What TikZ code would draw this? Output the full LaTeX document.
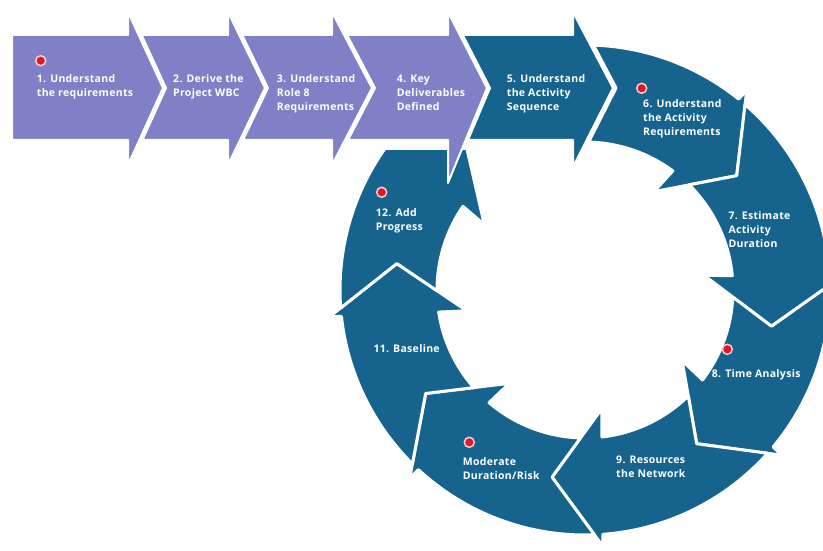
\documentclass[tikz,border=0pt]{standalone}
\usepackage{fontspec}
\setmainfont{Open Sans}[LetterSpace=3]
\definecolor{vio}{RGB}{128,128,198}
\definecolor{ringblue}{RGB}{22,100,142}
\definecolor{dotred}{RGB}{222,24,36}
\definecolor{dotring}{RGB}{248,205,210}
\newcommand\rsArrow[3][]{%
  \pgfmathsetmacro\rsAo{#2+5.79}%
  \pgfmathsetmacro\rsAi{#2+9.73}%
  \pgfmathsetmacro\rsAa{#2+18}%
  \pgfmathsetmacro\rsBo{#3+3.83}%
  \pgfmathsetmacro\rsBw{#3+4}%
  \pgfmathsetmacro\rsBa{#3+18}%
  \pgfmathsetmacro\rsBi{#3+1.42}%
  \path[ringarrow,#1] (\rsAo:245) arc[start angle=\rsAo, end angle=\rsBo, radius=245]
    -- (\rsBw:257) -- (\rsBa:190) -- (#3:120) -- (\rsBi:148)
    arc[start angle=\rsBi, end angle=\rsAi, radius=148] -- (\rsAa:190) -- cycle;}
\begin{document}
\begin{tikzpicture}[x=1pt,y=-1pt,
  rowarrow/.style={fill=vio, draw=white, line width=2pt, line join=round},
  bluerow/.style={rowarrow, fill=ringblue},
  ringarrow/.style={fill=ringblue, draw=white, line width=3pt, line join=round, shift={(585,290)}},
  lbl/.style={text=white, font=\bfseries\fontsize{10.5}{14}\selectfont, align=left, anchor=north west, inner sep=0pt},
  reddot/.style={circle, fill=dotred, draw=dotring, line width=1.5pt, minimum size=10pt, inner sep=0pt}]
\useasboundingbox (0,0) rectangle (823,551);
\clip (0,0) rectangle (823,551);
\fill[white] (0,0) rectangle (823,551);
% ring of arrows 6..12
\path[ringarrow] (8.4,-244.9) arc[start angle=-88.04, end angle=-51.17, radius=245]
  -- (-51:257) -- (-37:190) -- (-55:120) -- (-53.58:148)
  arc[start angle=-53.58, end angle=-88.6, radius=148] -- (3.6,-148) -- (31,-202) -- cycle;
\rsArrow{-55}{-7}
\rsArrow{-7}{36}
\rsArrow{36}{82}
\rsArrow{82}{129}
\rsArrow{129}{170}
\begin{scope}
  \clip (300,150) rectangle (823,551);
  \rsArrow{170}{213}
\end{scope}
% top row arrows 1..5
\path[rowarrow] (12,35) -- (128,35) -- (128,12) -- (163,88) -- (128,165) -- (128,140) -- (12,140) -- cycle;
\path[rowarrow] (141.6,35) -- (228,35) -- (228,12) -- (265,88) -- (228,165) -- (228,140) -- (142.4,140) -- (166,88) -- cycle;
\path[rowarrow] (242.2,35) -- (332,35) -- (332,12) -- (372,88) -- (332,165) -- (332,140) -- (243,140) -- (268,88) -- cycle;
\path[rowarrow] (347.1,35) -- (448,35) -- (448,12) -- (487,88) -- (448,183) -- (448,140) -- (348,140) -- (375,88) -- cycle;
\path[bluerow] (462.8,35) -- (573,35) -- (573,12) -- (613,88) -- (573,167) -- (573,140) -- (468,140) -- (490,88) -- cycle;
% labels
\node[reddot] (d1) at (40.7,60.7) {};
\node[lbl] (t1) at (36.7,74.3) {1. Understand\\the requirements};
\node[lbl] (t2) at (173,74.3) {2. Derive the\\Project WBC};
\node[lbl] (t3) at (276.7,74.3) {3. Understand\\Role 8\\Requirements};
\node[lbl] (t4) at (396.7,75) {4. Key\\Deliverables\\Defined};
\node[lbl] (t5) at (506.7,74.3) {5. Understand\\the Activity\\Sequence};
\node[reddot] (d6) at (641.7,88.3) {};
\node[lbl] (t6) at (643,99) {6. Understand\\the Activity\\Requirements};
\node[lbl] (t7) at (728.3,211.3) {7. Estimate\\Activity\\Duration};
\node[reddot] (d8) at (727.3,349.3) {};
\node[lbl] (t8) at (711.7,369.3) {8. Time Analysis};
\node[lbl] (t9) at (616,455.3) {9. Resources\\the Network};
\node[reddot] (d10) at (469.3,442.3) {};
\node[lbl] (t10) at (462.7,457) {Moderate\\Duration/Risk};
\node[lbl] (t11) at (373.3,344.3) {11. Baseline};
\node[reddot] (d12) at (381.7,192.3) {};
\node[lbl] (t12) at (375.7,208.7) {12. Add\\Progress};
\end{tikzpicture}
\end{document}
